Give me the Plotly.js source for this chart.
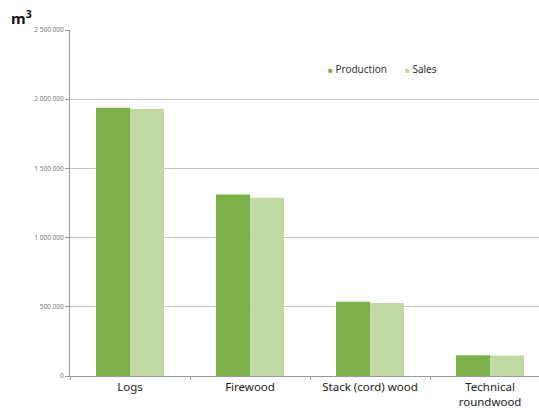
<!DOCTYPE html>
<html><head><meta charset="utf-8">
<script src="https://cdn.plot.ly/plotly-3.0.1.min.js"></script>
<style>html,body{margin:0;padding:0;overflow:hidden;background:#fff}</style>
</head><body><div id="chart" style="width:539px;height:410px"></div>
<script>
const categories = ["Logs", "Firewood", "Stack (cord) wood", "Technical<br>roundwood"];
const seriesNames = ["Production", "Sales"];
const production = [1938000, 1312000, 537000, 150000];
const sales = [1929000, 1288000, 527000, 148000];
const yTicks = [0, 500000, 1000000, 1500000, 2000000, 2500000];
const colors = ["#7cb04a", "#c0d9a2"];

const traces = [
  {type:"bar", name:seriesNames[0], x:categories, y:production, marker:{color:colors[0]}},
  {type:"bar", name:seriesNames[1], x:categories, y:sales, marker:{color:colors[1]}}
];
const legendX = [0.545, 0.711];
const layout = {
  width:539, height:410,
  margin:{l:70, r:0, t:30, b:34},
  paper_bgcolor:"#fff", plot_bgcolor:"#fff",
  separators:". ",
  font:{family:"Noto Sans, Open Sans, sans-serif", color:"#222"},
  barmode:"group", bargap:0.433, bargroupgap:0,
  showlegend:false,
  xaxis:{range:[-0.5, 3.408], tickson:"boundaries", ticks:"outside", ticklen:3,
         tickcolor:"#999", showline:true, linecolor:"#999", linewidth:1,
         tickfont:{size:11.5, color:"#222"}, showgrid:false, fixedrange:true},
  yaxis:{range:[0, 2500000], tickvals:yTicks, tickformat:",d", ticks:"outside", ticklen:4,
         tickcolor:"#999", showline:true, linecolor:"#999", linewidth:1,
         showgrid:true, gridcolor:"#c4c4c4", gridwidth:1, zeroline:false,
         tickfont:{size:6.5, color:"#777"}, fixedrange:true},
  annotations:[
    {text:"<b>m<sup>3</sup></b>", xref:"paper", yref:"paper", x:-0.13, y:1.0, xanchor:"left", yanchor:"bottom",
     showarrow:false, font:{size:15, color:"#111"}, yshift:0}
  ].concat(seriesNames.map((n, i) => ({
     text:"<span style='color:" + colors[i] + ";font-size:8px'>■</span> " + n,
     xref:"paper", yref:"paper", x:legendX[i], y:0.887, xanchor:"left", yanchor:"middle",
     showarrow:false, font:{size:10, color:"#333"}
  })))
};
Plotly.newPlot("chart", traces, layout, {displayModeBar:false, staticPlot:true});
</script></body></html>
